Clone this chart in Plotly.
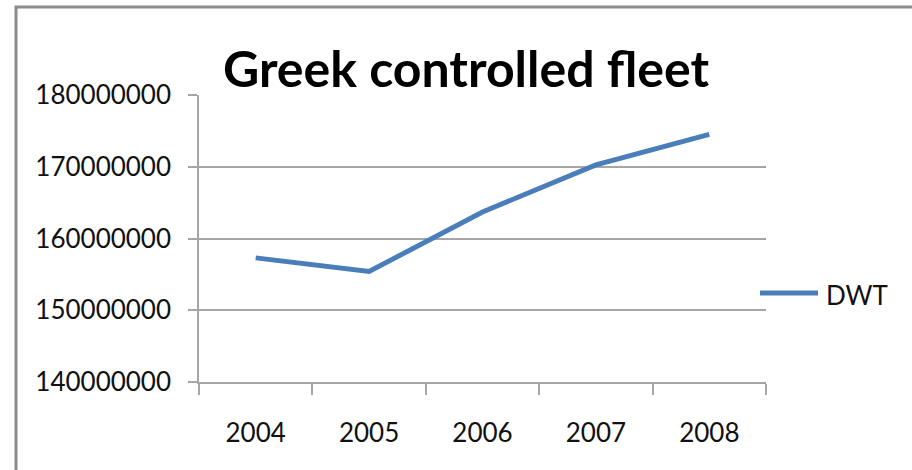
import plotly.graph_objects as go

# Greek controlled fleet, deadweight tonnage by year
years = ["2004", "2005", "2006", "2007", "2008"]
dwt = [157300000, 155400000, 163700000, 170250000, 174500000]
y_ticks = [140000000, 150000000, 160000000, 170000000, 180000000]
series_name = "DWT"
title_text = "Greek controlled fleet"

W, H = 912, 470
L, R, T, B = 199, 766, 95, 382  # plot area in pixels

def px_x(p):
    return (p - L) / (R - L)

def px_y(p):
    return (B - p) / (B - T)

line_color = "#4a7ebb"
grid_color = "#a6a6a6"
font_family = "Lato, Liberation Sans, sans-serif"

fig = go.Figure()
fig.add_trace(go.Scatter(
    x=years, y=dwt, mode="lines", name=series_name,
    line=dict(color=line_color, width=5),
    showlegend=False,
))

fig.update_layout(
    width=W, height=H,
    margin=dict(l=L, r=W - R, t=T, b=H - B),
    paper_bgcolor="white", plot_bgcolor="white",
    font=dict(family=font_family, size=26, color="#111111"),
    xaxis=dict(
        type="category", range=[-0.5, len(years) - 0.5],
        tickson="boundaries", ticks="outside", ticklen=11,
        tickcolor=grid_color, tickwidth=1.5,
        showline=True, linecolor=grid_color, linewidth=1.5,
        showgrid=False, zeroline=False, ticklabelstandoff=27,
        tickfont=dict(size=26),
    ),
    yaxis=dict(
        range=[y_ticks[0], y_ticks[-1]], tickvals=y_ticks,
        ticktext=[str(v) for v in y_ticks],
        ticks="outside", ticklen=9, tickcolor=grid_color, tickwidth=1.5,
        showline=True, linecolor=grid_color, linewidth=1.5,
        showgrid=True, gridcolor=grid_color, gridwidth=1.5,
        zeroline=False, ticklabelstandoff=12,
        tickfont=dict(size=26),
    ),
)

# title
fig.add_annotation(
    text="<b>" + title_text + "</b>", xref="paper", yref="paper",
    x=px_x(466), y=px_y(68), xanchor="center", yanchor="middle",
    showarrow=False, font=dict(size=50, color="black", family=font_family),
)

# legend key and label
fig.add_shape(type="line", xref="paper", yref="paper",
              x0=px_x(760), x1=px_x(818), y0=px_y(293), y1=px_y(293),
              line=dict(color=line_color, width=5))
fig.add_annotation(
    text=series_name, xref="paper", yref="paper",
    x=px_x(824), y=px_y(295), xanchor="left", yanchor="middle",
    showarrow=False, font=dict(size=26, family=font_family),
)

# chart frame
fig.add_shape(type="rect", xref="paper", yref="paper",
              x0=px_x(16), x1=px_x(930), y0=px_y(490), y1=px_y(7),
              line=dict(color="#8c8c8c", width=3), layer="below")

fig.write_html("out.html")
